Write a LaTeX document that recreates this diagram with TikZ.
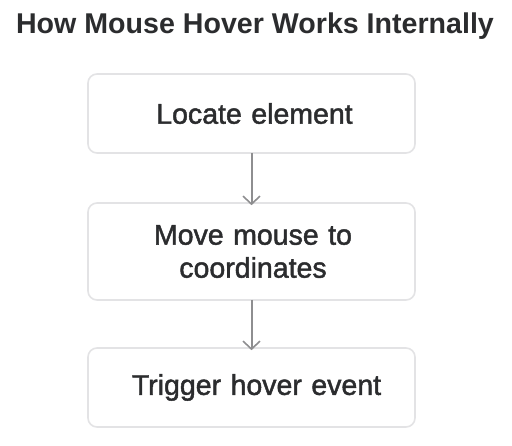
\documentclass[tikz,border=0pt]{standalone}
\usepackage{fontspec}
\setmainfont{Liberation Sans}
\newfontfamily\medfont[FakeBold=1.6]{Liberation Sans}
\usetikzlibrary{arrows.meta}
\definecolor{txt}{HTML}{2B2C2E}
\definecolor{boxline}{HTML}{E3E3E5}
\definecolor{arr}{HTML}{8E8E90}
\begin{document}
\begin{tikzpicture}[x=1pt,y=-1pt,
  stepbox/.style={draw=boxline,line width=1.6pt,rounded corners=9pt,fill=white,
    minimum width=327pt,inner sep=0pt,align=center,text=txt,
    font=\medfont\fontsize{28.5}{33}\selectfont},
  flow/.style={draw=arr,line width=2pt,-{Straight Barb[length=8pt,width=17pt,line width=1.6pt]}}]
\useasboundingbox (0,0) rectangle (512,445);
\node[text=txt,font=\fontsize{28.6}{30}\bfseries\selectfont,anchor=base] (title) at (255,33) {How Mouse Hover Works Internally};
\node[stepbox,minimum height=79pt,text width=310pt,xshift=0pt] (a) at (251.5,113.5) {\hspace*{6pt}Locate element};
\node[stepbox,minimum height=97pt,text width=310pt] (b) at (251.5,251.5) {\hspace*{3pt}Move mouse to\\\hspace*{3pt}coordinates};
\node[stepbox,minimum height=79pt,text width=310pt] (c) at (251.5,387.5) {\hspace*{10pt}Trigger hover event};
\draw[flow] ([yshift=1pt]a.south) -- ([yshift=-3pt]b.north);
\draw[flow] ([yshift=1pt]b.south) -- ([yshift=-3pt]c.north);
\end{tikzpicture}
\end{document}
